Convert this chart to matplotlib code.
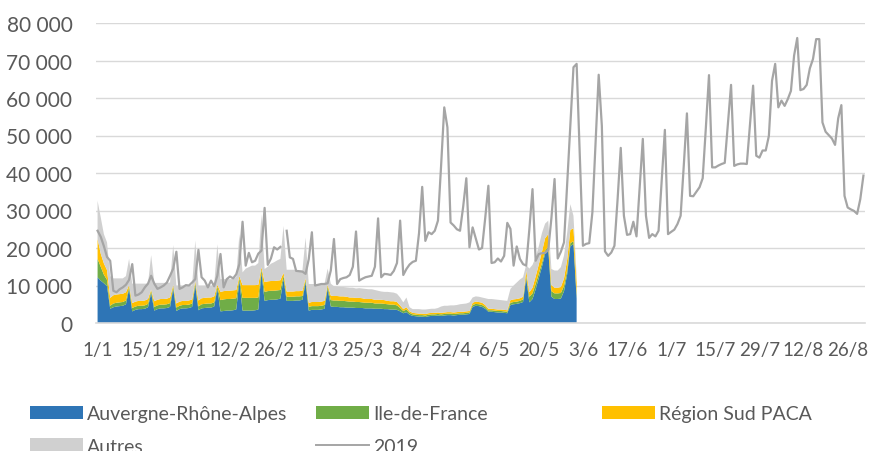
import matplotlib
matplotlib.use("Agg")
import matplotlib.pyplot as plt
import numpy as np
import pandas as pd
from matplotlib.patches import Patch
from matplotlib.lines import Line2D
from matplotlib.ticker import FuncFormatter

plt.rcParams['font.family'] = ['Lato', 'DejaVu Sans']

# axe des dates (1/1 -> 31/8), 2019 ramene sur le calendrier 2020
days = pd.date_range("2020-01-01", "2020-08-31", freq="D")
tick_labels = ["1/1", "15/1", "29/1", "12/2", "26/2", "11/3", "25/3", "8/4", "22/4",
               "6/5", "20/5", "3/6", "17/6", "1/7", "15/7", "29/7", "12/8", "26/8"]

# 2019 (pas de 29/2)
ligne_2019 = [
    24600, 23000, 20500, 17600, 16600, 8600, 8200,
    9000, 9500, 10200, 11500, 15700, 7300, 7600,
    8200, 9500, 10500, 12600, 10500, 9100, 9500,
    10000, 10800, 12600, 14500, 19000, 9100, 9500,
    10100, 10000, 10800, 11700, 19500, 12200, 11300,
    9500, 11300, 9800, 12600, 18400, 9500, 11700,
    12400, 11900, 13000, 15700, 27000, 15300, 18700,
    16200, 16600, 18500, 19300, 30700, 15500, 17200,
    20200, 19600, 20300, np.nan, 24600, 17500, 17100,
    13900, 13800, 13700, 13100, 17000, 24200, 10000,
    10200, 10400, 10400, 10600, 14000, 22400, 10400,
    11700, 12000, 12200, 12800, 15000, 24400, 11300,
    11800, 12200, 12400, 12600, 15000, 27900, 12200,
    13100, 13000, 12800, 13900, 16000, 27300, 12800,
    14400, 15600, 16300, 16600, 24000, 36300, 21900,
    24200, 23700, 24600, 27300, 42000, 57500, 52200,
    26800, 26000, 25000, 24600, 31000, 38600, 20200,
    25500, 22500, 19600, 20000, 28000, 36600, 16000,
    16200, 17200, 16400, 17900, 26700, 25100, 15300,
    20400, 17100, 15700, 15300, 25000, 35700, 16600,
    18400, 18600, 18700, 19500, 28000, 38400, 17200,
    19000, 21500, 37000, 52600, 68200, 69100, 45000,
    20600, 21100, 21300, 29500, 48000, 66200, 52600,
    19100, 17900, 18800, 20600, 33000, 46700, 28600,
    23500, 23700, 27000, 23100, 36000, 49100, 28600,
    22700, 23700, 23100, 24600, 38000, 51500, 23700,
    24300, 24900, 26400, 28600, 42000, 55900, 33900,
    33800, 35000, 36200, 38600, 52000, 66100, 41500,
    41500, 42000, 42400, 42700, 53000, 63500, 41900,
    42300, 42500, 42500, 42400, 53000, 63300, 44600,
    44100, 46000, 46000, 49900, 64600, 69100, 57500,
    59300, 57900, 59700, 61900, 71300, 76000, 62100,
    62400, 63500, 67900, 70400, 75700, 75700, 53500,
    51000, 50100, 49200, 47500, 54600, 58100, 33900,
    30800, 30300, 29900, 29100, 33000, 39300,
]

# 2020 par region, du 1/1 au 1/6
auvergne = [
    12200, 11300, 10600, 9800, 3800, 4200, 4400,
    4500, 4600, 5000, 9100, 3100, 3500, 3700,
    3700, 3800, 4200, 8000, 3300, 3700, 3900,
    3900, 4000, 4300, 9100, 3200, 3700, 3900,
    3900, 4000, 4300, 10000, 3400, 3900, 4000,
    4100, 4100, 4400, 9100, 3100, 3200, 3300,
    3300, 3400, 3600, 11300, 3300, 3300, 3300,
    3300, 3400, 3600, 13500, 5900, 6100, 6200,
    6200, 6300, 6500, 11700, 5900, 5900, 5900,
    6000, 6000, 6200, 10800, 3300, 3500, 3500,
    3500, 3600, 3800, 9100, 4400, 4300, 4300,
    4200, 4200, 4100, 4100, 4100, 4000, 4000,
    4000, 3900, 3900, 3900, 3800, 3800, 3800,
    3700, 3700, 3600, 3600, 3500, 3100, 2600,
    2900, 2200, 1900, 1800, 1700, 1700, 1600,
    1800, 1900, 1900, 2000, 1900, 2000, 2100,
    2100, 2000, 2100, 2200, 2200, 2300, 2400,
    4300, 4600, 4500, 4300, 3800, 3000, 3000,
    2900, 2800, 2800, 2700, 2600, 4800, 5000,
    5100, 5300, 5600, 12000, 5500, 6400, 9000,
    12000, 15000, 18500, 19700, 7000, 6400, 6400,
    6500, 8500, 13000, 20500, 21000, 6500,
]
ile_de_france = [
    4900, 3700, 2300, 1700, 800, 1000, 1000,
    1000, 1000, 1000, 600, 900, 900, 900,
    900, 900, 900, 600, 1000, 1000, 1000,
    1000, 1000, 1000, 600, 900, 900, 900,
    900, 900, 900, 600, 1000, 1100, 1100,
    1100, 1100, 1100, 600, 3000, 3100, 3100,
    3100, 3100, 3000, 700, 3400, 3400, 3400,
    3400, 3300, 3200, 800, 2400, 2400, 2400,
    2400, 2400, 2300, 900, 1100, 1100, 1100,
    1100, 1100, 1000, 600, 1000, 1000, 1000,
    1000, 1000, 1000, 600, 1700, 1700, 1700,
    1700, 1700, 1700, 1600, 1600, 1600, 1600,
    1500, 1500, 1500, 1500, 1400, 1400, 1400,
    1400, 1300, 1300, 1300, 1200, 900, 600,
    700, 500, 400, 400, 400, 400, 400,
    400, 400, 400, 400, 400, 400, 400,
    400, 400, 400, 400, 400, 400, 400,
    500, 500, 500, 500, 500, 400, 400,
    400, 400, 400, 400, 400, 600, 600,
    600, 600, 700, 500, 1500, 1500, 1400,
    1200, 1000, 800, 600, 1500, 1500, 1500,
    1500, 1400, 1100, 800, 800, 800,
]
sud_paca = [
    5300, 3500, 3000, 2600, 2100, 2200, 2200,
    2200, 2200, 2200, 400, 1300, 1300, 1300,
    1300, 1300, 1300, 300, 1500, 1500, 1500,
    1500, 1500, 1500, 500, 1100, 1100, 1100,
    1100, 1100, 1100, 500, 1600, 1600, 1600,
    1600, 1600, 1600, 500, 2200, 2200, 2200,
    2200, 2200, 2200, 500, 3400, 3400, 3400,
    3400, 3400, 3400, 600, 2600, 2600, 2600,
    2600, 2600, 2600, 800, 1400, 1400, 1400,
    1400, 1400, 1400, 500, 1100, 1100, 1100,
    1100, 1100, 1100, 500, 1200, 1200, 1200,
    1200, 1200, 1200, 1100, 1100, 1100, 1100,
    1100, 1000, 1000, 1000, 1000, 1000, 1000,
    1000, 900, 900, 900, 900, 700, 500,
    600, 400, 400, 400, 400, 400, 400,
    400, 400, 400, 400, 400, 400, 400,
    400, 400, 400, 400, 400, 400, 400,
    600, 600, 600, 600, 500, 400, 400,
    400, 400, 400, 400, 400, 700, 700,
    700, 700, 700, 1500, 1200, 1500, 2000,
    2400, 3000, 3300, 3400, 1600, 1500, 1500,
    1600, 2000, 2800, 3500, 3500, 3500,
]
autres = [
    10200, 9700, 7800, 7400, 5800, 4500, 4300,
    4200, 4100, 4300, 7000, 5200, 4800, 4600,
    4600, 4500, 4100, 9200, 4900, 4500, 4300,
    4300, 4200, 4000, 10600, 4800, 4300, 4100,
    4100, 4000, 3700, 10900, 4000, 3400, 3300,
    3200, 3200, 3000, 10800, 3400, 3200, 3100,
    3100, 3000, 3500, 11200, 3400, 4400, 4800,
    5200, 5200, 5800, 14100, 3500, 3900, 4600,
    5000, 5400, 5700, 12500, 5800, 5800, 5800,
    5700, 5500, 5400, 10900, 5000, 4800, 4800,
    4800, 4700, 4500, 4300, 3200, 2600, 2500,
    2500, 2500, 2500, 2600, 2600, 2500, 2600,
    2600, 2700, 2600, 2600, 2600, 2400, 2200,
    2200, 2400, 2400, 2300, 2200, 2100, 1800,
    2600, 1100, 1000, 1100, 1200, 1100, 1200,
    1100, 1100, 1100, 1200, 1700, 1800, 1700,
    1800, 1900, 1900, 2000, 2100, 2100, 2300,
    1400, 1400, 1400, 1400, 1800, 2600, 2600,
    2600, 2600, 2500, 2500, 2500, 3000, 3700,
    4400, 5000, 5200, 1500, 6300, 6100, 5100,
    4900, 5000, 3900, 3600, 4300, 4600, 4600,
    5300, 6100, 7100, 6900, 3300, 1800,
]

noms = ["Auvergne-Rhône-Alpes", "Ile-de-France", "Région Sud PACA", "Autres"]
couleurs = ["#2E75B6", "#70AD47", "#FFC000", "#D0D0D0"]
gris_ligne = "#A5A5A5"
gris_texte = "#595959"

fig = plt.figure(figsize=(8.69, 4.52), dpi=100)
ax = fig.add_axes([96 / 869, 128 / 452, 769 / 869, 300 / 452])

n20 = len(auvergne)
ax.stackplot(days[:n20], auvergne, ile_de_france, sud_paca, autres,
             colors=couleurs, linewidth=0, zorder=2)
ax.plot(days, ligne_2019, color=gris_ligne, lw=1.6, zorder=3)

half = pd.Timedelta(hours=12)
ax.set_xlim(days[0] - half, days[-1] + half)
ax.set_ylim(0, 80000)
ax.set_yticks(np.arange(0, 80001, 10000))
ax.yaxis.set_major_formatter(FuncFormatter(lambda v, p: f"{v:,.0f}".replace(",", " ")))
ax.set_xticks(days[::14])
ax.set_xticklabels(tick_labels)

ax.grid(axis="y", color="#D9D9D9", lw=1)
ax.set_axisbelow(True)
for s in ["top", "right", "left"]:
    ax.spines[s].set_visible(False)
ax.spines["bottom"].set_color("#D9D9D9")
ax.spines["bottom"].set_linewidth(1.2)
ax.spines["bottom"].set_zorder(4)
ax.tick_params(axis="y", length=0, pad=17, labelsize=15, labelcolor=gris_texte)
ax.tick_params(axis="x", length=0, pad=13, labelsize=13.5, labelcolor=gris_texte)

# legende sur trois colonnes de meme largeur
h = [Patch(facecolor=c, edgecolor="none") for c in couleurs]
h.append(Line2D([], [], color=gris_ligne, lw=1.4))
colonnes = [([h[0], h[3]], [noms[0], noms[3]], 30),
            ([h[1], h[4]], [noms[1], "2019"], 316),
            ([h[2]], [noms[2]], 602)]
for hs, labs, x0 in colonnes:
    fig.legend(hs, labs, loc="upper left", bbox_to_anchor=(x0 / 869, 1 - 406 / 452),
               frameon=False, fontsize=14, handlelength=2.7, handleheight=0.65,
               handletextpad=0.25, borderpad=0, borderaxespad=0, labelspacing=0.8,
               labelcolor=gris_texte)

fig.savefig("out.png", dpi=100)
